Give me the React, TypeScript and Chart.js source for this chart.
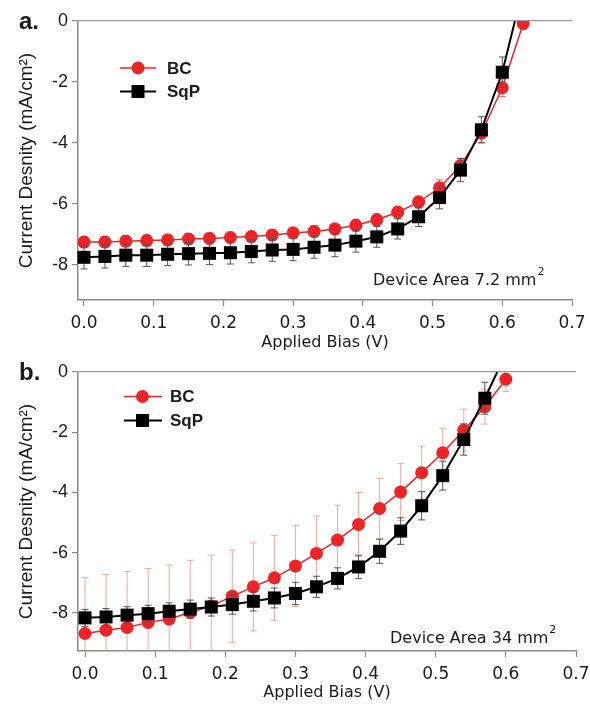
import React, { useEffect, useRef } from "react";
import { Chart, registerables } from "chart.js";

Chart.register(...registerables);

// ---------- data ----------
const X_TICKS = [0, 0.1, 0.2, 0.3, 0.4, 0.5, 0.6, 0.7];
const Y_TICKS = [0, -2, -4, -6, -8];
const SERIES_NAMES = ["BC", "SqP"];
const PANEL_LABELS = ["a.", "b."];
const AREA_LABELS = ["Device Area 7.2 mm", "Device Area 34 mm"];
const X_TITLE = "Applied Bias (V)";
const Y_TITLE = "Current Desnity (mA/cm\u00B2)";

// panel a (7.2 mm^2)
const BIAS_A = [0, 0.03, 0.06, 0.09, 0.12, 0.15, 0.18, 0.21, 0.24, 0.27, 0.3, 0.33, 0.36, 0.39, 0.42, 0.45, 0.48, 0.51, 0.54, 0.57, 0.6, 0.63];
const BC_A = [-7.25, -7.25, -7.22, -7.2, -7.18, -7.15, -7.13, -7.1, -7.07, -7.02, -6.95, -6.9, -6.82, -6.7, -6.52, -6.27, -5.94, -5.47, -4.74, -3.68, -2.19, -0.08];
const BC_A_ERR = [0.18, 0.18, 0.18, 0.18, 0.18, 0.18, 0.18, 0.18, 0.18, 0.18, 0.19, 0.19, 0.19, 0.2, 0.2, 0.2, 0.2, 0.26, 0.24, 0.3, 0.29, 0.2];
const SQP_A = [-7.75, -7.72, -7.68, -7.68, -7.65, -7.63, -7.62, -7.6, -7.56, -7.51, -7.49, -7.42, -7.35, -7.22, -7.08, -6.82, -6.42, -5.79, -4.89, -3.57, -1.68, 1.1];
const SQP_A_ERR = [0.38, 0.38, 0.37, 0.37, 0.37, 0.37, 0.37, 0.37, 0.37, 0.37, 0.37, 0.36, 0.38, 0.36, 0.34, 0.33, 0.32, 0.37, 0.38, 0.43, 0.5, 0.5];

// panel b (34 mm^2)
const BIAS_B = [0, 0.03, 0.06, 0.09, 0.12, 0.15, 0.18, 0.21, 0.24, 0.27, 0.3, 0.33, 0.36, 0.39, 0.42, 0.45, 0.48, 0.51, 0.54, 0.57, 0.6];
const BC_B = [-8.68, -8.57, -8.48, -8.31, -8.2, -7.98, -7.77, -7.44, -7.13, -6.83, -6.44, -6.02, -5.58, -5.06, -4.53, -3.98, -3.34, -2.68, -1.93, -1.15, -0.24];
const BC_B_ERR = [1.86, 1.85, 1.85, 1.79, 1.79, 1.73, 1.69, 1.53, 1.46, 1.41, 1.34, 1.24, 1.16, 1.06, 1.0, 0.95, 0.88, 0.81, 0.7, 0.58, 0.41];
const SQP_B = [-8.16, -8.13, -8.07, -8.02, -7.94, -7.87, -7.8, -7.72, -7.61, -7.5, -7.35, -7.13, -6.85, -6.47, -5.95, -5.28, -4.44, -3.44, -2.24, -0.87, 0.6];
const SQP_B_ERR = [0.28, 0.28, 0.28, 0.28, 0.28, 0.3, 0.3, 0.32, 0.32, 0.33, 0.37, 0.35, 0.35, 0.39, 0.4, 0.44, 0.47, 0.48, 0.52, 0.53, 0.5];

// ---------- styles / layout ----------
const RED = "#ee2326";
const TEXT = "#1a1a1a";
const AXIS = "#8a8a8a";

type Panel = {
  bias: number[];
  bc: number[];
  bcErr: number[];
  sqp: number[];
  sqpErr: number[];
  bcErrColor: string;
  xMin: number;
  yMin: number;
  padRight: number;
  height: number;
  top: number;
  titlePadBottom: number;
  label: string;
  area: string;
  areaX: number;
  areaY: number;
  legend: { x0: number; x1: number; cx: number; y1: number; y2: number; tx: number };
};

const PANELS: Panel[] = [
  {
    bias: BIAS_A, bc: BC_A, bcErr: BC_A_ERR, sqp: SQP_A, sqpErr: SQP_A_ERR,
    bcErrColor: "rgba(230,80,70,0.85)",
    xMin: -0.0086, yMin: -9.15, padRight: 18, height: 351, top: 0, titlePadBottom: -1,
    label: PANEL_LABELS[0], area: AREA_LABELS[0], areaX: 373, areaY: 285,
    legend: { x0: 42, x1: 78, cx: 60, y1: 47, y2: 70.5, tx: 89 },
  },
  {
    bias: BIAS_B, bc: BC_B, bcErr: BC_B_ERR, sqp: SQP_B, sqpErr: SQP_B_ERR,
    bcErrColor: "rgba(242,140,110,0.75)",
    xMin: -0.01, yMin: -9.26, padRight: 14, height: 353, top: 351, titlePadBottom: 2,
    label: PANEL_LABELS[1], area: AREA_LABELS[1], areaX: 390, areaY: 292,
    legend: { x0: 46, x1: 84, cx: 64.5, y1: 24.5, y2: 48.5, tx: 92 },
  },
];

const errorBarPlugin = {
  id: "errorBars",
  beforeDatasetDraw(chart: any, args: any) {
    const ds = chart.data.datasets[args.index];
    if (!ds.errors) return;
    const { ctx, chartArea } = chart;
    const xs = chart.scales.x;
    const ys = chart.scales.y;
    ctx.save();
    ctx.beginPath();
    ctx.rect(chartArea.left, chartArea.top, chartArea.right - chartArea.left, chartArea.bottom - chartArea.top);
    ctx.clip();
    ctx.strokeStyle = ds.errorColor;
    ctx.lineWidth = 1;
    ds.data.forEach((p: any, i: number) => {
      const e = ds.errors[i];
      const px = xs.getPixelForValue(p.x);
      const pt = ys.getPixelForValue(p.y + e);
      const pb = ys.getPixelForValue(p.y - e);
      ctx.beginPath();
      ctx.moveTo(px, pt);
      ctx.lineTo(px, pb);
      ctx.moveTo(px - 3.5, pt);
      ctx.lineTo(px + 3.5, pt);
      ctx.moveTo(px - 3.5, pb);
      ctx.lineTo(px + 3.5, pb);
      ctx.stroke();
    });
    ctx.restore();
  },
};

function makeOverlay(p: Panel) {
  return {
    id: "overlay",
    afterDraw(chart: any) {
      const { ctx, chartArea } = chart;
      const { left, top } = chartArea;
      const lg = p.legend;
      ctx.save();
      // legend BC
      ctx.strokeStyle = RED;
      ctx.lineWidth = 1.5;
      ctx.beginPath();
      ctx.moveTo(left + lg.x0, top + lg.y1);
      ctx.lineTo(left + lg.x1, top + lg.y1);
      ctx.stroke();
      ctx.fillStyle = RED;
      ctx.beginPath();
      ctx.arc(left + lg.cx, top + lg.y1, 6.5, 0, Math.PI * 2);
      ctx.fill();
      // legend SqP
      ctx.strokeStyle = "#000";
      ctx.lineWidth = 2;
      ctx.beginPath();
      ctx.moveTo(left + lg.x0, top + lg.y2);
      ctx.lineTo(left + lg.x1, top + lg.y2);
      ctx.stroke();
      ctx.fillStyle = "#000";
      ctx.fillRect(left + lg.cx - 6.5, top + lg.y2 - 6.5, 13, 13);
      ctx.fillStyle = TEXT;
      ctx.font = "bold 17px 'Liberation Sans'";
      ctx.textBaseline = "middle";
      ctx.textAlign = "left";
      ctx.fillText(SERIES_NAMES[0], left + lg.tx, top + lg.y1 + 1);
      ctx.fillText(SERIES_NAMES[1], left + lg.tx, top + lg.y2 + 1);
      // device area annotation
      ctx.textBaseline = "alphabetic";
      ctx.font = "16px 'DejaVu Sans'";
      ctx.fillText(p.area, p.areaX, p.areaY);
      const w = ctx.measureText(p.area).width;
      ctx.font = "11px 'DejaVu Sans'";
      ctx.fillText("2", p.areaX + w + 1, p.areaY - 10);
      // panel label
      ctx.font = "bold 24px 'Liberation Sans'";
      ctx.textBaseline = "middle";
      ctx.fillText(p.label, 19, 22);
      ctx.restore();
    },
  };
}

function buildChart(canvas: HTMLCanvasElement, p: Panel) {
  const bcData = p.bias.map((x, i) => ({ x, y: p.bc[i] }));
  const sqpData = p.bias.map((x, i) => ({ x, y: p.sqp[i] }));
  return new Chart(canvas, {
    type: "line",
    data: {
      datasets: [
        {
          label: SERIES_NAMES[0],
          data: bcData,
          borderColor: RED,
          backgroundColor: RED,
          borderWidth: 1.5,
          pointStyle: "circle",
          pointRadius: 6.5,
          pointHoverRadius: 6.5,
          pointBorderWidth: 0,
          tension: 0,
          order: 1,
          errors: p.bcErr,
          errorColor: p.bcErrColor,
        } as any,
        {
          label: SERIES_NAMES[1],
          data: sqpData,
          borderColor: "#000",
          backgroundColor: "#000",
          borderWidth: 2,
          pointStyle: "rect",
          pointRadius: 9.2,
          pointHoverRadius: 9.2,
          pointBorderWidth: 0,
          tension: 0,
          order: 0,
          clip: { left: 20, right: 20, bottom: 20, top: 0 },
          errors: p.sqpErr,
          errorColor: "#555",
        } as any,
      ],
    },
    options: {
      responsive: false,
      animation: false,
      events: [],
      layout: { padding: { left: 0, top: 21, right: p.padRight, bottom: 0 } },
      plugins: { legend: { display: false }, tooltip: { enabled: false } },
      scales: {
        x: {
          type: "linear",
          min: p.xMin,
          max: 0.7,
          afterBuildTicks: (s: any) => {
            s.ticks = X_TICKS.map((v) => ({ value: v }));
          },
          afterFit: (s: any) => {
            s.height = p.height - 300;
            s.paddingLeft = 0;
            s.paddingRight = 0;
          },
          ticks: {
            callback: (v: any) => Number(v).toFixed(1),
            font: { family: "'DejaVu Sans'", size: 17 },
            color: TEXT,
            padding: 7,
            maxRotation: 0,
            autoSkip: false,
          },
          grid: { drawOnChartArea: false, drawTicks: true, tickLength: 6, tickColor: AXIS, tickWidth: 1.2 },
          border: { display: true, color: AXIS, width: 1.5 },
          title: {
            display: true,
            text: X_TITLE,
            font: { family: "'DejaVu Sans'", size: 16 },
            color: TEXT,
            padding: { top: 0, bottom: p.titlePadBottom },
          },
        },
        y: {
          type: "linear",
          min: p.yMin,
          max: 0,
          afterBuildTicks: (s: any) => {
            s.ticks = Y_TICKS.map((v) => ({ value: v }));
          },
          afterFit: (s: any) => {
            s.width = 78;
            s.paddingTop = 0;
            s.paddingBottom = 0;
          },
          ticks: {
            callback: (v: any) => String(v),
            font: { family: "'Liberation Sans'", size: 18 },
            color: TEXT,
            padding: 4,
            autoSkip: false,
          },
          grid: {
            drawOnChartArea: true,
            drawTicks: true,
            tickLength: 6,
            tickColor: AXIS,
            tickWidth: 1.2,
            lineWidth: 1.2,
            color: (c: any) => (c.tick && c.tick.value === 0 ? "#9a9a9a" : "rgba(0,0,0,0)"),
          },
          border: { display: true, color: AXIS, width: 1.5 },
          title: {
            display: true,
            text: Y_TITLE,
            font: { family: "'Liberation Sans'", size: 19 },
            color: TEXT,
            padding: { top: 15, bottom: 0 },
          },
        },
      },
    } as any,
    plugins: [errorBarPlugin, makeOverlay(p)],
  });
}

function PanelChart({ p }: { p: Panel }) {
  const ref = useRef<HTMLCanvasElement | null>(null);
  useEffect(() => {
    if (!ref.current) return;
    const c = buildChart(ref.current, p);
    return () => c.destroy();
  }, [p]);
  return (
    <div style={{ position: "absolute", left: 0, top: p.top, width: 590, height: p.height }}>
      <canvas ref={ref} width={590} height={p.height} style={{ width: 590, height: p.height, display: "block" }} />
    </div>
  );
}

export default function App() {
  return (
    <div style={{ position: "absolute", left: 0, top: 0, width: 590, height: 704, background: "#fff" }}>
      {PANELS.map((p, i) => (
        <PanelChart key={i} p={p} />
      ))}
    </div>
  );
}
